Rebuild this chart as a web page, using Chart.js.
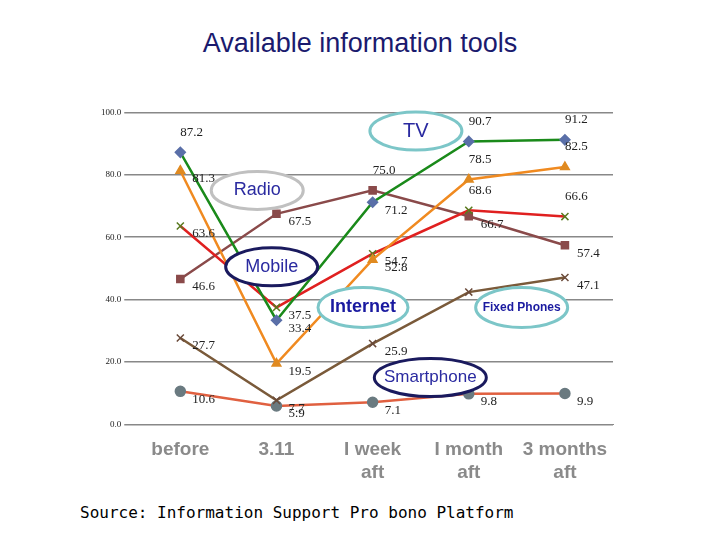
<!DOCTYPE html>
<html><head><meta charset="utf-8">
<script src="https://cdn.jsdelivr.net/npm/chart.js"></script>
<style>
body{margin:0;width:720px;height:540px;background:#fff;position:relative;overflow:hidden}
#t{position:absolute;top:28px;left:0;width:720px;text-align:center;font:27px "Liberation Sans",Arial,sans-serif;color:#1a1a6e}
#s{position:absolute;top:503px;left:80px;font:16px "DejaVu Sans Mono",monospace;color:#000}
#w{position:absolute;left:98px;top:104px;width:525px;height:386px}
</style></head><body>
<div id="t">Available information tools</div>
<div id="w"><canvas id="c"></canvas></div>
<div id="s">Source: Information Support Pro bono Platform</div>
<script>
const categories=["before","3.11",["I week","aft"],["I month","aft"],["3 months","aft"]];
const tv=[87.2,33.4,71.2,90.7,91.2];
const internet=[81.3,19.5,52.8,78.5,82.5];
const mobile=[63.6,37.5,54.7,68.6,66.6];
const radio=[46.6,67.5,75.0,66.7,57.4];
const fixed=[27.7,7.7,25.9,42.4,47.1];
const smart=[10.6,5.9,7.1,9.8,9.9];
const yTicks=[0,20,40,60,80,100];
const bubbles=[
 {t:"TV",x:2.45,y:94,rx:46,ry:19,c:"#7cc6c8",f:"20px 'Liberation Sans'",tc:"#2a2aa0"},
 {t:"Radio",x:0.8,y:75,rx:46,ry:19,c:"#c0c0c0",f:"18px 'Liberation Sans'",tc:"#2a2aa0"},
 {t:"Mobile",x:0.95,y:50.5,rx:46,ry:19,c:"#1a1a5e",f:"18px 'Liberation Sans'",tc:"#2a2aa0"},
 {t:"Internet",x:1.9,y:37.5,rx:45,ry:20,c:"#7cc6c8",f:"bold 18px 'Liberation Sans'",tc:"#1a1aa0"},
 {t:"Fixed Phones",x:3.55,y:37.5,rx:46,ry:20,c:"#7cc6c8",f:"bold 12px 'Liberation Sans'",tc:"#1a1aa0"},
 {t:"Smartphone",x:2.6,y:15,rx:56,ry:19,c:"#1a1a5e",f:"17px 'Liberation Sans'",tc:"#2a2aa0"}
];
const ds=(d,line,ps,pc)=>({data:d,borderColor:line,borderWidth:2.5,pointStyle:ps,pointRadius:5,pointBackgroundColor:pc,pointBorderColor:pc,pointBorderWidth:1.5,tension:0});
const above=(i,j)=>(i===0&&(j===0||j>=3))||(i===3&&j===2)||(i===1&&j>=3)||(i===2&&j>=3);
const plug={id:'ann',afterDatasetsDraw(ch){
 const g=ch.ctx,xs=ch.scales.x,ys=ch.scales.y;
 g.save();g.font="13px 'Liberation Serif'";g.fillStyle="#222";g.textBaseline="middle";
 ch.data.datasets.forEach((d,i)=>{ch.getDatasetMeta(i).data.forEach((p,j)=>{
   const up=above(i,j);
   g.fillText(d.data[j].toFixed(1),p.x+(up?0:12),p.y+(up?-20:8));});});
 bubbles.forEach(b=>{const cx=xs.getPixelForValue(b.x),cy=ys.getPixelForValue(b.y);
   g.beginPath();g.ellipse(cx,cy,b.rx,b.ry,0,0,Math.PI*2);g.fillStyle="#fff";g.fill();
   g.lineWidth=3;g.strokeStyle=b.c;g.stroke();
   g.fillStyle=b.tc;g.font=b.f;g.textAlign="center";g.fillText(b.t,cx,cy);g.textAlign="left";});
 g.restore();}};
new Chart(document.getElementById('c'),{type:'line',
 data:{labels:categories,datasets:[
  ds(tv,"#1a8a1a","rectRot","#5a6fa8"),
  ds(internet,"#f08a20","triangle","#e08a20"),
  ds(mobile,"#e02020","crossRot","#5a7a20"),
  ds(radio,"#8a4a4a","rect","#8a4a4a"),
  ds(fixed,"#7a5a3a","crossRot","#6a4a3a"),
  ds(smart,"#e06040","circle","#6a7a80")]},
 plugins:[plug],
 options:{responsive:true,maintainAspectRatio:false,animation:false,
  layout:{padding:{right:10}},
  plugins:{legend:{display:false},tooltip:{enabled:false}},
  scales:{
   x:{offset:true,grid:{display:false},border:{color:"#888"},
      ticks:{color:"#8a8a8a",font:{family:"Liberation Sans",size:19,weight:"bold"},maxRotation:0,padding:6}},
   y:{min:0,max:100,afterBuildTicks:a=>{a.ticks=yTicks.map(v=>({value:v}));},
      grid:{color:"#888",lineWidth:1.5},border:{display:false},
      ticks:{callback:v=>v.toFixed(1),color:"#222",font:{family:"Liberation Serif",size:9}}}}}});
</script></body></html>
